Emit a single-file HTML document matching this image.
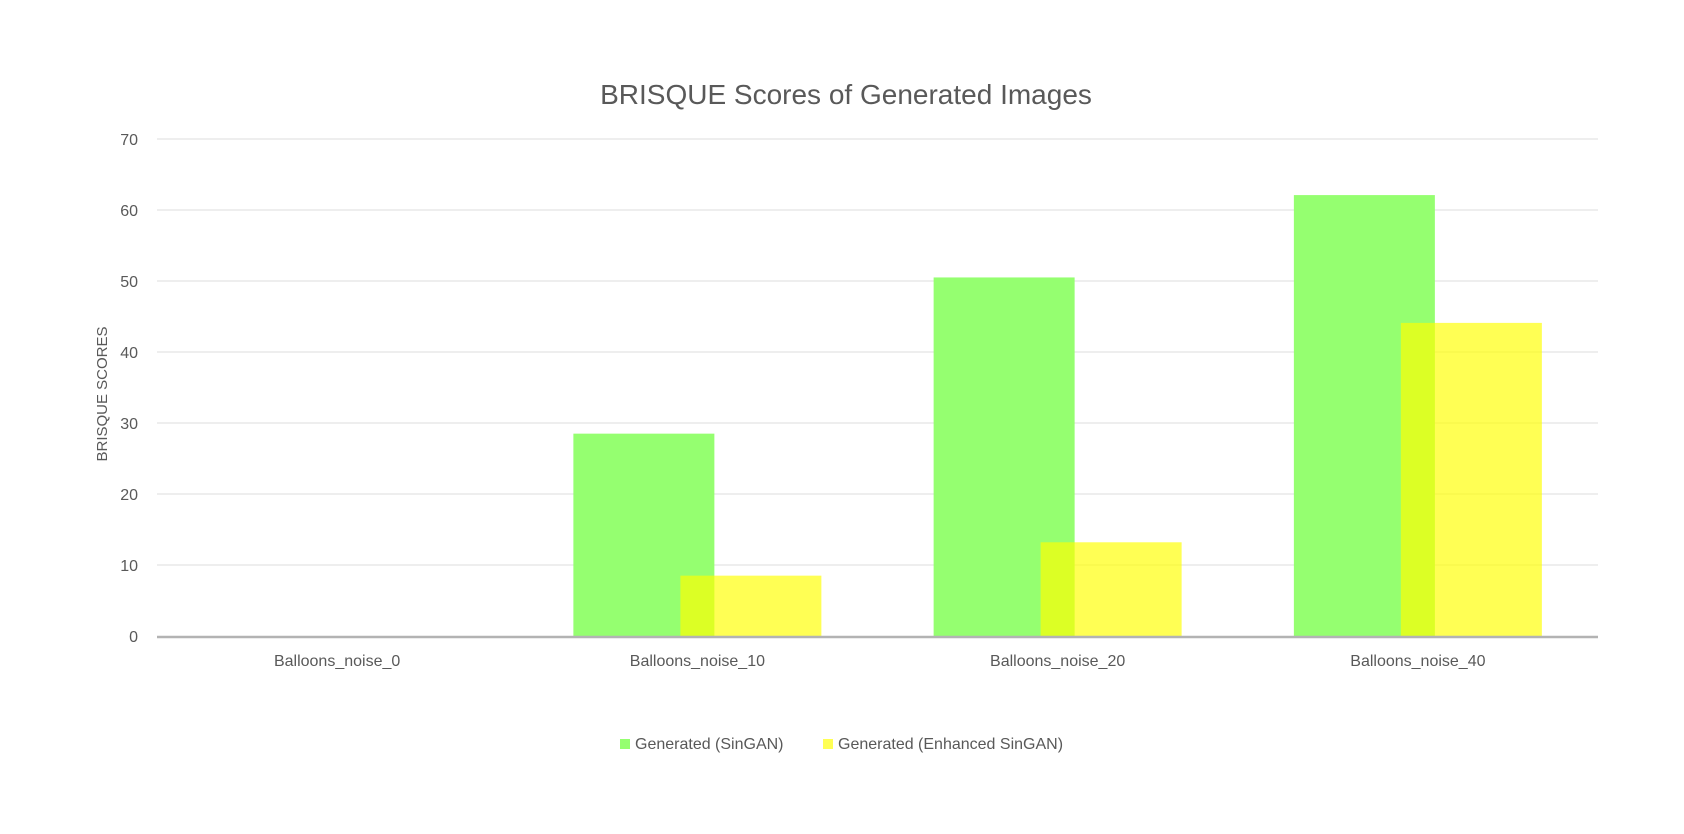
<!DOCTYPE html>
<html><head><meta charset="utf-8">
<style>
html,body{margin:0;padding:0;background:#fff;}
svg text{font-family:"Liberation Sans",sans-serif;fill:#595959;}
</style></head>
<body>
<svg id="chart" width="1684" height="829" viewBox="0 0 1684 829" xmlns="http://www.w3.org/2000/svg">
<rect width="1684" height="829" fill="#fff"/>
<text x="846" y="104" text-anchor="middle" font-size="28">BRISQUE Scores of Generated Images</text>
<text transform="translate(107,394) rotate(-90)" text-anchor="middle" font-size="15">BRISQUE SCORES</text>
<g id="grid"></g><g id="bars"></g><g id="labels"></g>
<g>
<rect x="620" y="739" width="10" height="10" fill="#95ff70"/>
<text x="635" y="749" font-size="16">Generated (SinGAN)</text>
<rect x="823" y="739" width="10" height="10" fill="rgb(255,255,84)"/>
<text x="838" y="749" font-size="16">Generated (Enhanced SinGAN)</text>
</g>
</svg>
<script>
const categories=["Balloons_noise_0","Balloons_noise_10","Balloons_noise_20","Balloons_noise_40"];
const singan=[0,28.5,50.5,62.1];
const enhanced=[0,8.5,13.2,44.1];
const yTicks=[0,10,20,30,40,50,60,70];
const NS="http://www.w3.org/2000/svg";
const x0=157,x1=1598,y0=636,yMax=70,yTop=139;
function ys(v){return y0-(v/yMax)*(y0-yTop);}
function xc(i){return x0+(i+0.5)*(x1-x0)/categories.length;}
function mk(t,a,p){const e=document.createElementNS(NS,t);for(const k in a)e.setAttribute(k,a[k]);p.appendChild(e);return e;}
const grid=document.getElementById('grid'),bars=document.getElementById('bars'),labels=document.getElementById('labels');
yTicks.forEach(v=>{
  if(v>0){const l=mk('line',{x1:x0,x2:x1,y1:ys(v),y2:ys(v),stroke:'#e3e3e3','stroke-width':1.3},grid);
  
  }
  const t=mk('text',{x:138,y:ys(v)+6,'text-anchor':'end','font-size':16},labels);
  t.textContent=v;
  
  
});
categories.forEach((c,i)=>{
  const cx=xc(i);
  if(singan[i]>0){const r=mk('rect',{x:cx-124,y:ys(singan[i]),width:141,height:y0-ys(singan[i]),fill:'#95ff70'},bars);
  
  }
  if(enhanced[i]>0){const r=mk('rect',{x:cx-17,y:ys(enhanced[i]),width:141,height:y0-ys(enhanced[i]),fill:'rgba(255,255,0,0.67)'},bars);
  
  }
  const t=mk('text',{x:cx,y:666,'text-anchor':'middle','font-size':16},labels);
  t.textContent=c;
  
  
});
const ax=mk('line',{x1:x0,x2:x1,y1:y0+1,y2:y0+1,stroke:'#b3b3b3','stroke-width':2.5},labels);


</script>
</body></html>
